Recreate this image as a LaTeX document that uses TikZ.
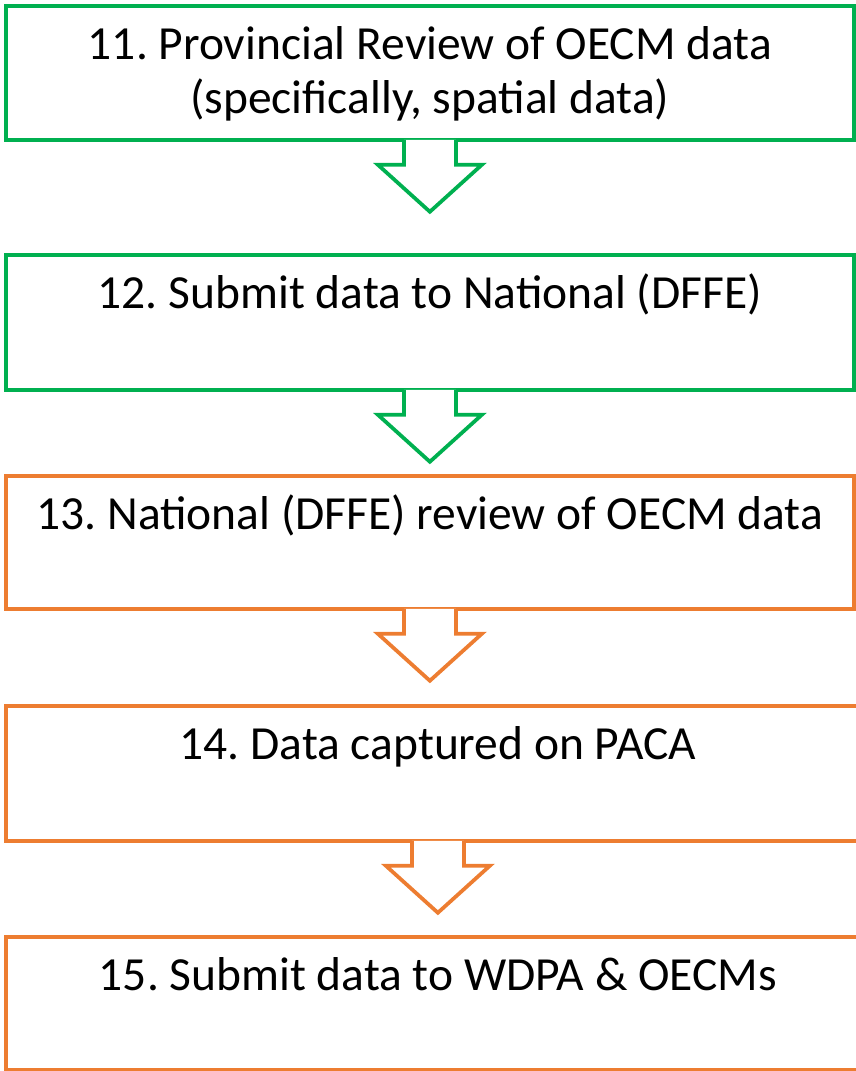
\documentclass[tikz,border=0pt]{standalone}
\usepackage{fontspec}
\setmainfont{Carlito}
\usetikzlibrary{calc}
\definecolor{pgreen}{HTML}{00B050}
\definecolor{porange}{HTML}{ED7D31}
\frenchspacing
\begin{document}
\begin{tikzpicture}[x=1pt,y=1pt,
  box/.style={draw, line width=3.75pt, anchor=north west, inner sep=0pt, minimum width=#1},
  txt/.style={anchor=base, inner sep=0pt, font=\fontsize{47.5}{54}\selectfont},
  blockarrow/.style={draw, fill=white, line width=3.75pt}]
\useasboundingbox (0,0) rectangle (856,-1071);
% boxes
\node[box=848pt, pgreen, minimum height=134pt] (b1) at (4,-4) {};
\node[box=848pt, pgreen, minimum height=135pt] (b2) at (4,-253) {};
\node[box=848pt, porange, minimum height=133pt] (b3) at (4,-474) {};
\node[box=864pt, porange, minimum height=135pt] (b4) at (4,-704) {};
\node[box=864pt, porange, minimum height=133pt] (b5) at (4,-935) {};
% texts
\node[txt] (t1) at ($(b1.north)+(0,-55)$) {\begin{tabular}[t]{@{}c@{}}11. Provincial Review of OECM data\\(specifically, spatial data)\end{tabular}};
\node[txt] (t2) at ($(b2.north)+(0,-55)$) {12. Submit data to National (DFFE)};
\node[txt] (t3) at ($(b3.north)+(0,-55)$) {13. National (DFFE) review of OECM data};
\node[txt] (t4) at ($(b4.north)+(0,-55)$) {14. Data captured on PACA};
\node[txt] (t5) at ($(b5.north)+(0,-55)$) {15. Submit data to WDPA \& OECMs};
% block arrows
\foreach \b/\c in {b1/pgreen, b2/pgreen, b3/porange, b4/porange}{
  \path[blockarrow, draw=\c] ($(\b.south)+(-26,1.8)$) -- ($(\b.south)+(-26,-23)$)
    -- ($(\b.south)+(-52,-23)$) -- ($(\b.south)+(0,-70)$)
    -- ($(\b.south)+(52,-23)$) -- ($(\b.south)+(26,-23)$)
    -- ($(\b.south)+(26,1.8)$);
}
\end{tikzpicture}
\end{document}
